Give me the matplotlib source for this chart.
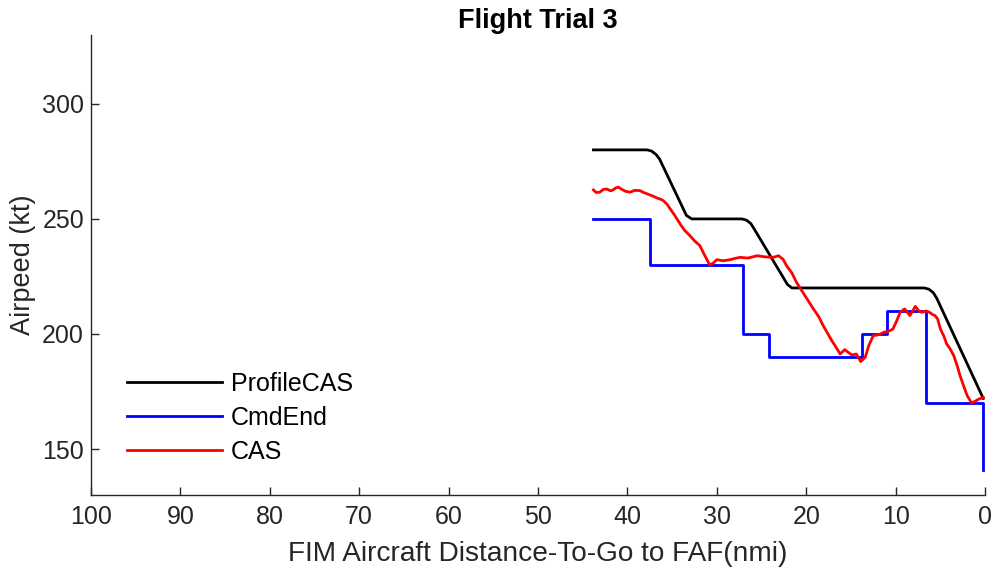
import matplotlib
matplotlib.use("Agg")
import matplotlib.pyplot as plt

plt.rcParams['font.family'] = ['Liberation Sans', 'DejaVu Sans']

# ProfileCAS (black)
prof_x = [43.8, 37.8, 37.3, 36.8, 36.4, 33.4, 32.8, 27.2, 26.7, 26.2, 25.8, 22.1, 21.6, 6.8, 6.3, 5.8, 5.4, 0.2]
prof_y = [280, 280, 279.5, 278, 276, 251.5, 250, 250, 249.5, 248, 245.5, 221.5, 220, 220, 219.5, 218, 215.5, 172]

# CmdEnd (blue) step line
cmd_x = [43.8, 37.5, 37.5, 27.1, 27.1, 24.2, 24.2, 13.8, 13.8, 11.0, 11.0, 6.6, 6.6, 0.2, 0.2]
cmd_y = [250, 250, 230, 230, 200, 200, 190, 190, 200, 200, 210, 210, 170, 170, 141]

# CAS (red)
cas_x = [43.8, 43.5, 43.1, 42.7, 42.3, 41.9, 41.6, 41.3, 41.0, 40.6, 40.2, 39.7, 39.2, 38.6, 38.2,
         37.8, 37.2, 36.7, 36.3, 36.0, 35.6, 35.2, 34.7, 34.1, 33.6, 33.0, 32.5, 31.9, 31.4, 30.8,
         30.4, 30.0, 29.3, 28.5, 28.0, 27.4, 26.5, 25.5, 24.6, 23.7, 23.1, 22.6, 22.2, 21.6, 21.1,
         20.2, 19.2, 18.6, 18.1, 17.2, 16.2, 15.7, 15.3, 14.9, 14.4, 13.9, 13.4, 13.0, 12.5, 12.1,
         11.7, 11.3, 11.0, 10.6, 10.3, 9.9, 9.5, 9.0, 8.4, 7.8, 7.4, 7.1, 6.6, 6.2, 5.9, 5.6, 5.3,
         5.0, 4.6, 4.3, 3.9, 3.5, 3.1, 2.8, 2.4, 2.0, 1.5, 1.1, 0.7, 0.2]
cas_y = [262.6, 261.5, 261.6, 262.8, 263, 262.2, 262.6, 263.5, 263.8, 262.8, 262.0, 261.6, 262.4, 262.3, 261.5,
         260.9, 260.0, 259.1, 258.6, 258.0, 256.5, 254.3, 251.5, 247.8, 245.0, 242.7, 240.5, 238.4, 234.5, 230.0,
         230.8, 232.3, 231.8, 232.3, 232.8, 233.3, 233.0, 234.0, 233.5, 233.3, 234.0, 232.5, 229.7, 226.5, 222.5,
         217.0, 210.9, 207.5, 203.6, 197.5, 191.3, 193.2, 192.0, 190.9, 191.3, 188.0, 189.9, 195.0, 199.3, 199.5,
         200.0, 200.8, 201.0, 201.5, 202.2, 205.5, 209.4, 210.9, 208.0, 212.0, 210.0, 209.4, 210.0, 209.4, 208.5, 208.0, 206.5,
         202.2, 199.0, 195.7, 193.5, 190.6, 186.0, 181.9, 177.5, 173.2, 170.0, 170.8, 171.7, 172.4]

xticks = [100, 90, 80, 70, 60, 50, 40, 30, 20, 10, 0]
yticks = [150, 200, 250, 300]

fig = plt.figure(figsize=(9.94, 5.71), dpi=100)
ax = fig.add_axes([0.0915, 0.133, 0.8995, 0.806])

ax.plot(prof_x, prof_y, color='black', lw=2.0, label='ProfileCAS')
ax.plot(cmd_x, cmd_y, color='#0000ff', lw=2.0, label='CmdEnd')
ax.plot(cas_x, cas_y, color='#ff0000', lw=2.0, label='CAS')

ax.set_xlim(100, 0)
ax.set_ylim(130, 330)
ax.set_xticks(xticks)
ax.set_yticks(yticks)

gray = '#262626'
for s in ['top', 'right']:
    ax.spines[s].set_visible(False)
for s in ['left', 'bottom']:
    ax.spines[s].set_color(gray)
    ax.spines[s].set_linewidth(1.0)
ax.tick_params(direction='in', length=6, width=1.0, color=gray, labelcolor=gray, labelsize=18)
ax.tick_params(axis='x', pad=7)
ax.tick_params(axis='y', pad=5)

ax.set_xlabel('FIM Aircraft Distance-To-Go to FAF(nmi)', fontsize=20.2, color=gray, labelpad=9)
ax.set_ylabel('Airpeed (kt)', fontsize=19.5, color=gray, labelpad=4)
ax.set_title('Flight Trial 3', fontsize=19.5, fontweight='bold', pad=5)

leg = ax.legend(loc='upper left', bbox_to_anchor=(0.04, 0.268), frameon=False, fontsize=18,
                handlelength=3.8, handletextpad=0.36, labelspacing=0.40, borderpad=0, borderaxespad=0)

fig.savefig('out.png', dpi=100)
